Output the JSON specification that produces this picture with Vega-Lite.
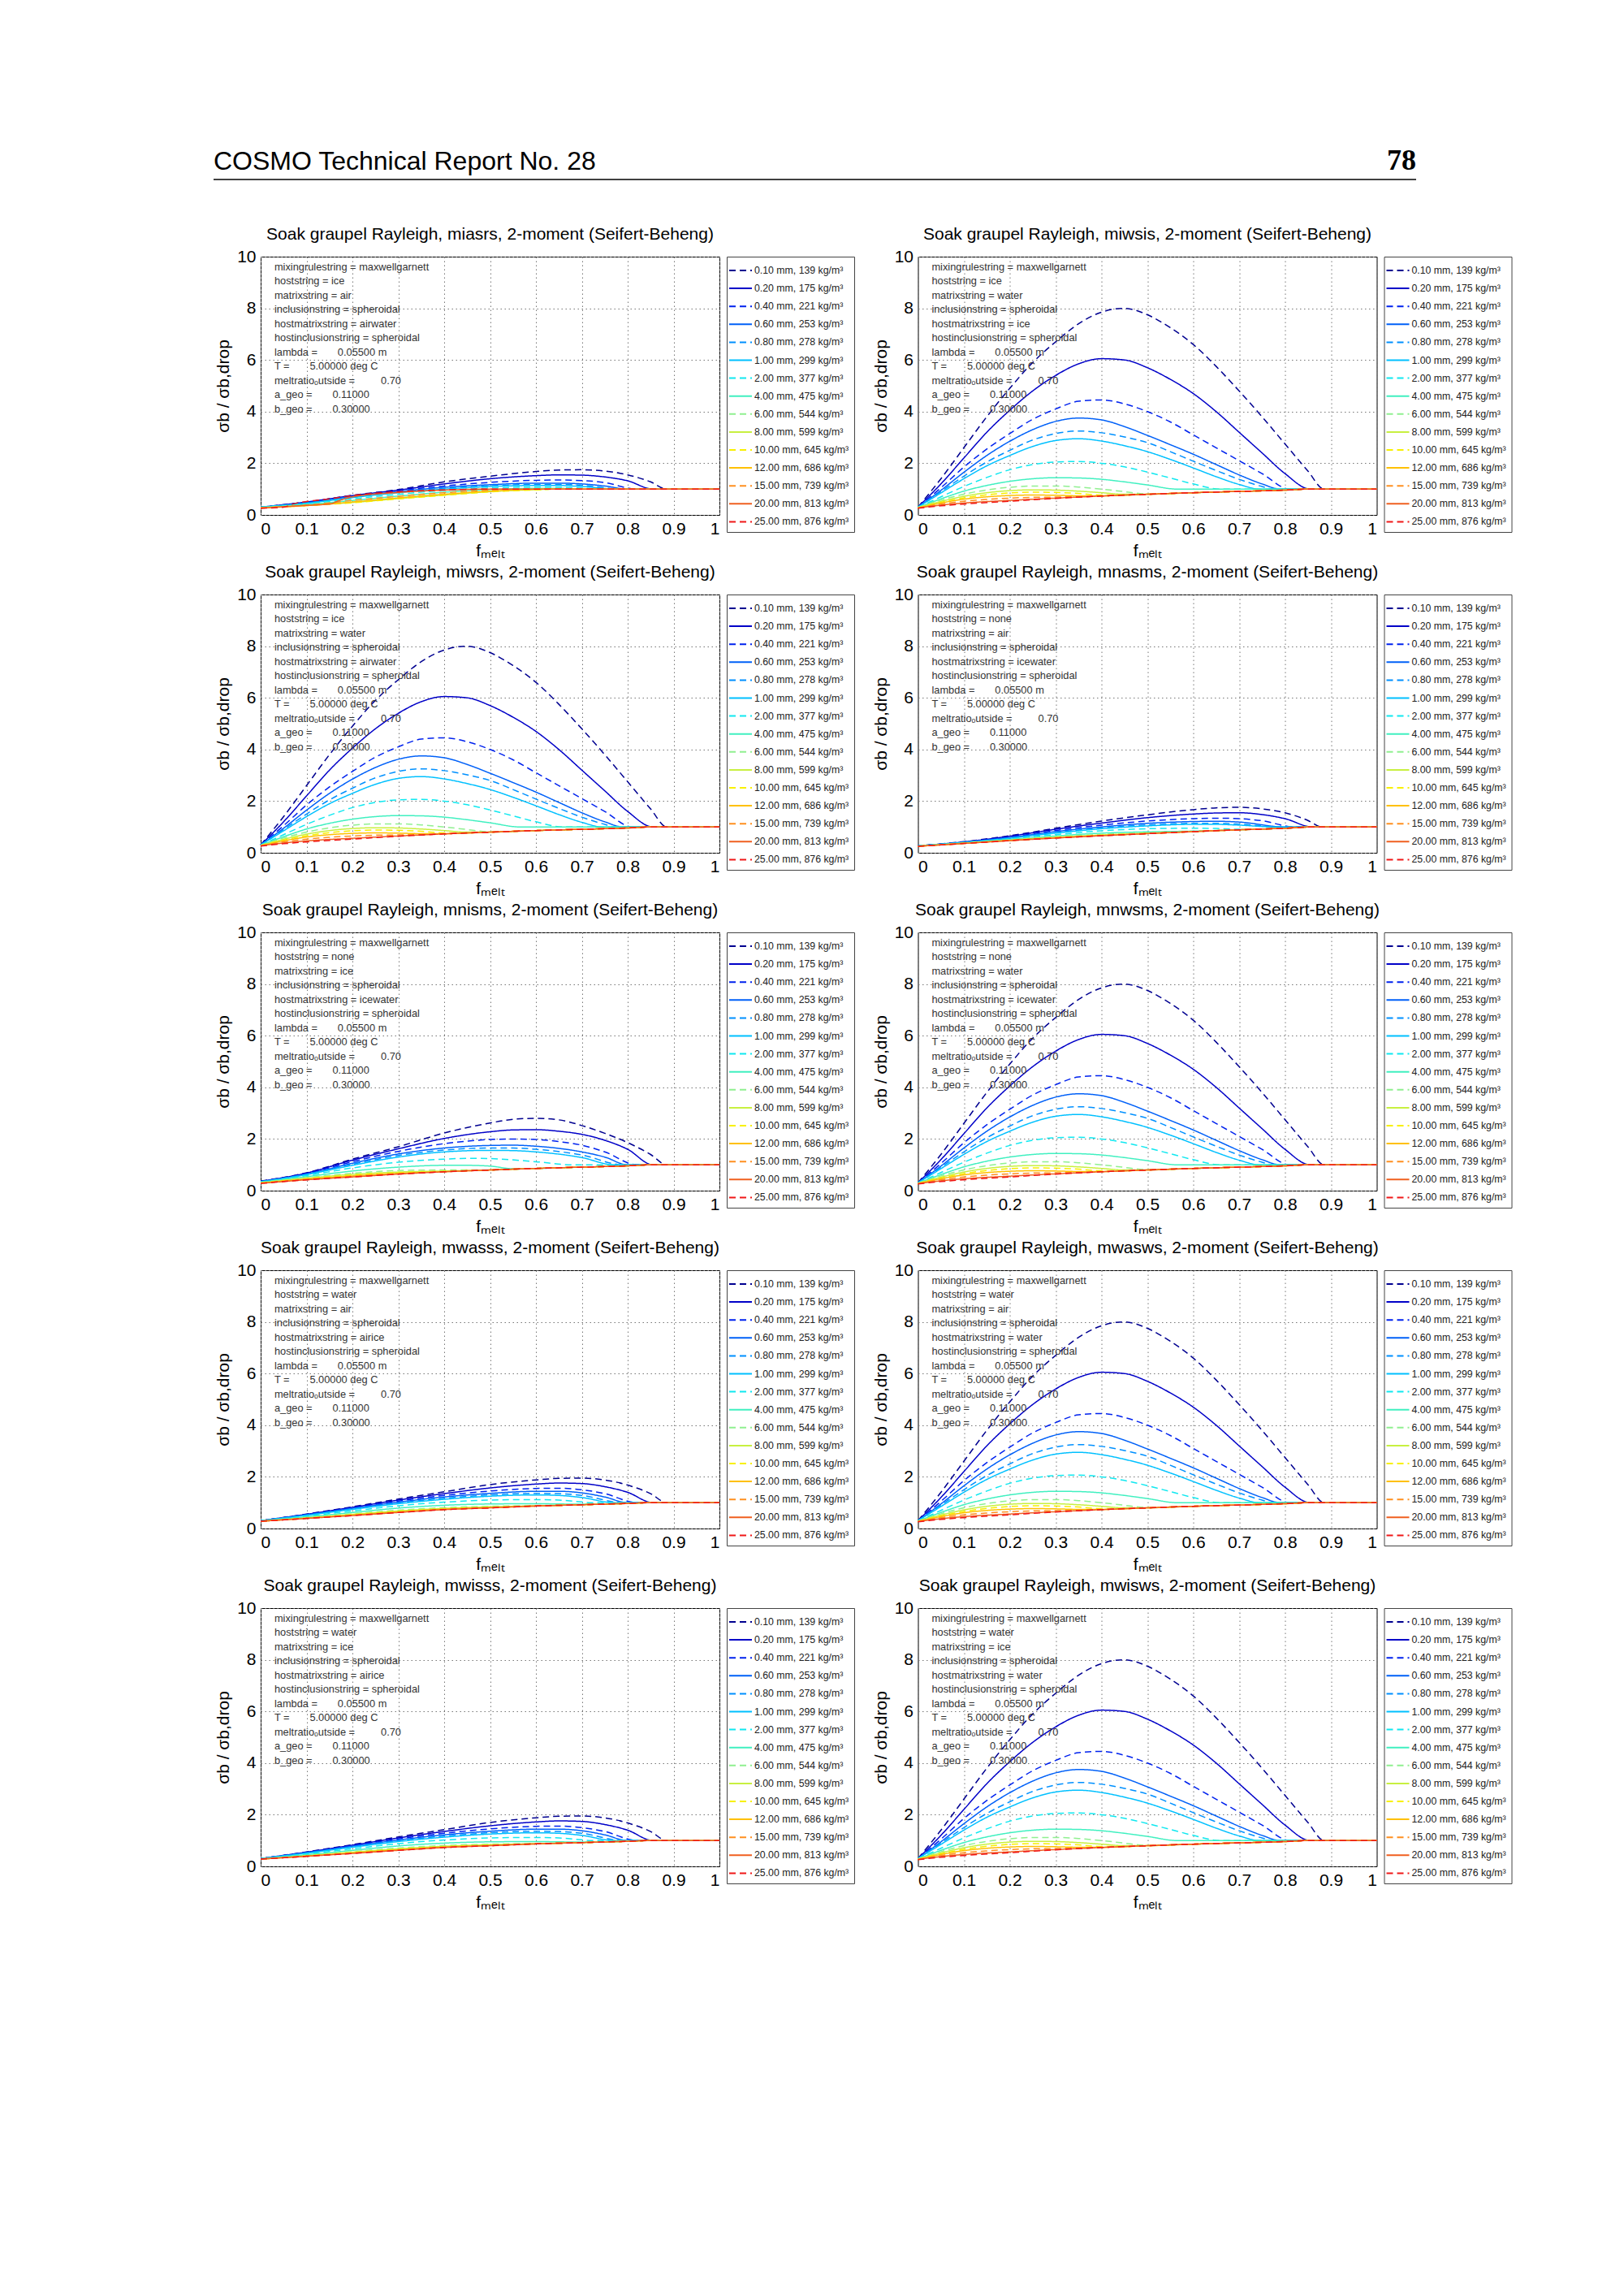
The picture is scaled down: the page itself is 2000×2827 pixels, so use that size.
{
  "$schema": "https://vega.github.io/schema/vega-lite/v6.json",
  "background": "white",
  "padding": {"left": 262, "top": 180, "right": 20, "bottom": 20},
  "spacing": 55,
  "config": {
    "font": "Liberation Sans",
    "view": {"stroke": "#000", "strokeWidth": 1},
    "axis": {
      "labelFontSize": 21, "titleFontSize": 21, "titleFontWeight": "normal",
      "labelColor": "#000", "titleColor": "#000", "domain": false, "ticks": false,
      "grid": true, "gridColor": "#777", "gridDash": [1.5, 3.5], "gridOpacity": 1, "labelPadding": 6, "titlePadding": 6
    },
    "title": {"fontSize": 21, "fontWeight": "normal", "frame": "group", "offset": 6, "color": "#000"},
    "legend": {
      "orient": "right", "offset": 6, "strokeColor": "#444", "fillColor": "#fff", "padding": 6,
      "labelFontSize": 12.3, "labelColor": "#222", "symbolType": "M-1.4,0H1.4", "symbolSize": 400,
      "symbolStrokeWidth": 2, "rowPadding": 4.1, "labelOffset": 6
    }
  },
  "datasets": {
    "sizes": [
      {"k": 1, "lab": "0.10 mm, 139 kg/m³"}, {"k": 2, "lab": "0.20 mm, 175 kg/m³"}, {"k": 3, "lab": "0.40 mm, 221 kg/m³"},
      {"k": 4, "lab": "0.60 mm, 253 kg/m³"}, {"k": 5, "lab": "0.80 mm, 278 kg/m³"}, {"k": 6, "lab": "1.00 mm, 299 kg/m³"},
      {"k": 7, "lab": "2.00 mm, 377 kg/m³"}, {"k": 8, "lab": "4.00 mm, 475 kg/m³"}, {"k": 9, "lab": "6.00 mm, 544 kg/m³"},
      {"k": 10, "lab": "8.00 mm, 599 kg/m³"}, {"k": 11, "lab": "10.00 mm, 645 kg/m³"}, {"k": 12, "lab": "12.00 mm, 686 kg/m³"},
      {"k": 13, "lab": "15.00 mm, 739 kg/m³"}, {"k": 14, "lab": "20.00 mm, 813 kg/m³"}, {"k": 15, "lab": "25.00 mm, 876 kg/m³"}
    ],
    "annc": [
      {"i": 1, "t": "mixingrulestring = maxwellgarnett"},
      {"i": 7, "t": "lambda =\u00a0\u00a0\u00a0\u00a0\u00a0\u00a0 0.05500 m"},
      {"i": 8, "t": "T =\u00a0\u00a0\u00a0\u00a0\u00a0\u00a0 5.00000 deg C"},
      {"i": 9, "t": "meltratio\u2092utside =\u00a0\u00a0\u00a0\u00a0\u00a0\u00a0\u00a0\u00a0 0.70"},
      {"i": 10, "t": "a_geo =\u00a0\u00a0\u00a0\u00a0\u00a0\u00a0 0.11000"},
      {"i": 11, "t": "b_geo =\u00a0\u00a0\u00a0\u00a0\u00a0\u00a0 0.30000"}
    ],
    "annp": [
      {"p": "miasrs", "i": 2, "t": "hoststring = ice"}, {"p": "miasrs", "i": 3, "t": "matrixstring = air"}, {"p": "miasrs", "i": 4, "t": "inclusionstring = spheroidal"}, {"p": "miasrs", "i": 5, "t": "hostmatrixstring = airwater"}, {"p": "miasrs", "i": 6, "t": "hostinclusionstring = spheroidal"},
      {"p": "miwsis", "i": 2, "t": "hoststring = ice"}, {"p": "miwsis", "i": 3, "t": "matrixstring = water"}, {"p": "miwsis", "i": 4, "t": "inclusionstring = spheroidal"}, {"p": "miwsis", "i": 5, "t": "hostmatrixstring = ice"}, {"p": "miwsis", "i": 6, "t": "hostinclusionstring = spheroidal"},
      {"p": "miwsrs", "i": 2, "t": "hoststring = ice"}, {"p": "miwsrs", "i": 3, "t": "matrixstring = water"}, {"p": "miwsrs", "i": 4, "t": "inclusionstring = spheroidal"}, {"p": "miwsrs", "i": 5, "t": "hostmatrixstring = airwater"}, {"p": "miwsrs", "i": 6, "t": "hostinclusionstring = spheroidal"},
      {"p": "mnasms", "i": 2, "t": "hoststring = none"}, {"p": "mnasms", "i": 3, "t": "matrixstring = air"}, {"p": "mnasms", "i": 4, "t": "inclusionstring = spheroidal"}, {"p": "mnasms", "i": 5, "t": "hostmatrixstring = icewater"}, {"p": "mnasms", "i": 6, "t": "hostinclusionstring = spheroidal"},
      {"p": "mnisms", "i": 2, "t": "hoststring = none"}, {"p": "mnisms", "i": 3, "t": "matrixstring = ice"}, {"p": "mnisms", "i": 4, "t": "inclusionstring = spheroidal"}, {"p": "mnisms", "i": 5, "t": "hostmatrixstring = icewater"}, {"p": "mnisms", "i": 6, "t": "hostinclusionstring = spheroidal"},
      {"p": "mnwsms", "i": 2, "t": "hoststring = none"}, {"p": "mnwsms", "i": 3, "t": "matrixstring = water"}, {"p": "mnwsms", "i": 4, "t": "inclusionstring = spheroidal"}, {"p": "mnwsms", "i": 5, "t": "hostmatrixstring = icewater"}, {"p": "mnwsms", "i": 6, "t": "hostinclusionstring = spheroidal"},
      {"p": "mwasss", "i": 2, "t": "hoststring = water"}, {"p": "mwasss", "i": 3, "t": "matrixstring = air"}, {"p": "mwasss", "i": 4, "t": "inclusionstring = spheroidal"}, {"p": "mwasss", "i": 5, "t": "hostmatrixstring = airice"}, {"p": "mwasss", "i": 6, "t": "hostinclusionstring = spheroidal"},
      {"p": "mwasws", "i": 2, "t": "hoststring = water"}, {"p": "mwasws", "i": 3, "t": "matrixstring = air"}, {"p": "mwasws", "i": 4, "t": "inclusionstring = spheroidal"}, {"p": "mwasws", "i": 5, "t": "hostmatrixstring = water"}, {"p": "mwasws", "i": 6, "t": "hostinclusionstring = spheroidal"},
      {"p": "mwisss", "i": 2, "t": "hoststring = water"}, {"p": "mwisss", "i": 3, "t": "matrixstring = ice"}, {"p": "mwisss", "i": 4, "t": "inclusionstring = spheroidal"}, {"p": "mwisss", "i": 5, "t": "hostmatrixstring = airice"}, {"p": "mwisss", "i": 6, "t": "hostinclusionstring = spheroidal"},
      {"p": "mwisws", "i": 2, "t": "hoststring = water"}, {"p": "mwisws", "i": 3, "t": "matrixstring = ice"}, {"p": "mwisws", "i": 4, "t": "inclusionstring = spheroidal"}, {"p": "mwisws", "i": 5, "t": "hostmatrixstring = water"}, {"p": "mwisws", "i": 6, "t": "hostinclusionstring = spheroidal"}
    ],
    "hi": [
      {"k":1,"x":0,"y":0.3},{"k":1,"x":0.05,"y":1.4},{"k":1,"x":0.1,"y":2.6},{"k":1,"x":0.15,"y":3.8},{"k":1,"x":0.2,"y":4.9},{"k":1,"x":0.25,"y":5.9},{"k":1,"x":0.3,"y":6.7},{"k":1,"x":0.35,"y":7.4},{"k":1,"x":0.4,"y":7.85},{"k":1,"x":0.45,"y":8.0},{"k":1,"x":0.5,"y":7.75},{"k":1,"x":0.55,"y":7.25},{"k":1,"x":0.6,"y":6.6},{"k":1,"x":0.65,"y":5.75},{"k":1,"x":0.7,"y":4.8},{"k":1,"x":0.75,"y":3.8},{"k":1,"x":0.8,"y":2.75},{"k":1,"x":0.85,"y":1.7},{"k":1,"x":0.885,"y":1.0},{"k":1,"x":1,"y":1.0},
      {"k":2,"x":0,"y":0.3},{"k":2,"x":0.05,"y":1.2},{"k":2,"x":0.1,"y":2.2},{"k":2,"x":0.15,"y":3.2},{"k":2,"x":0.2,"y":4.05},{"k":2,"x":0.25,"y":4.8},{"k":2,"x":0.3,"y":5.4},{"k":2,"x":0.35,"y":5.85},{"k":2,"x":0.4,"y":6.05},{"k":2,"x":0.45,"y":6.0},{"k":2,"x":0.5,"y":5.7},{"k":2,"x":0.55,"y":5.25},{"k":2,"x":0.6,"y":4.7},{"k":2,"x":0.65,"y":4.0},{"k":2,"x":0.7,"y":3.2},{"k":2,"x":0.75,"y":2.4},{"k":2,"x":0.8,"y":1.6},{"k":2,"x":0.855,"y":1.0},{"k":2,"x":1,"y":1.0},
      {"k":3,"x":0,"y":0.3},{"k":3,"x":0.05,"y":1.05},{"k":3,"x":0.1,"y":1.85},{"k":3,"x":0.15,"y":2.55},{"k":3,"x":0.2,"y":3.15},{"k":3,"x":0.25,"y":3.7},{"k":3,"x":0.3,"y":4.1},{"k":3,"x":0.35,"y":4.4},{"k":3,"x":0.4,"y":4.45},{"k":3,"x":0.45,"y":4.3},{"k":3,"x":0.5,"y":4.0},{"k":3,"x":0.55,"y":3.6},{"k":3,"x":0.6,"y":3.1},{"k":3,"x":0.65,"y":2.6},{"k":3,"x":0.7,"y":2.1},{"k":3,"x":0.75,"y":1.6},{"k":3,"x":0.81,"y":1.0},{"k":3,"x":1,"y":1.0},
      {"k":4,"x":0,"y":0.3},{"k":4,"x":0.05,"y":0.95},{"k":4,"x":0.1,"y":1.65},{"k":4,"x":0.15,"y":2.3},{"k":4,"x":0.2,"y":2.85},{"k":4,"x":0.25,"y":3.3},{"k":4,"x":0.3,"y":3.62},{"k":4,"x":0.35,"y":3.75},{"k":4,"x":0.4,"y":3.68},{"k":4,"x":0.45,"y":3.42},{"k":4,"x":0.5,"y":3.08},{"k":4,"x":0.55,"y":2.72},{"k":4,"x":0.6,"y":2.35},{"k":4,"x":0.65,"y":1.95},{"k":4,"x":0.7,"y":1.55},{"k":4,"x":0.75,"y":1.2},{"k":4,"x":0.79,"y":1.0},{"k":4,"x":1,"y":1.0},
      {"k":5,"x":0,"y":0.3},{"k":5,"x":0.05,"y":0.9},{"k":5,"x":0.1,"y":1.5},{"k":5,"x":0.15,"y":2.05},{"k":5,"x":0.2,"y":2.5},{"k":5,"x":0.25,"y":2.9},{"k":5,"x":0.3,"y":3.15},{"k":5,"x":0.35,"y":3.25},{"k":5,"x":0.4,"y":3.18},{"k":5,"x":0.45,"y":3.02},{"k":5,"x":0.5,"y":2.8},{"k":5,"x":0.55,"y":2.45},{"k":5,"x":0.6,"y":2.08},{"k":5,"x":0.65,"y":1.72},{"k":5,"x":0.7,"y":1.38},{"k":5,"x":0.75,"y":1.1},{"k":5,"x":0.775,"y":1.0},{"k":5,"x":1,"y":1.0},
      {"k":6,"x":0,"y":0.3},{"k":6,"x":0.05,"y":0.85},{"k":6,"x":0.1,"y":1.4},{"k":6,"x":0.15,"y":1.9},{"k":6,"x":0.2,"y":2.3},{"k":6,"x":0.25,"y":2.65},{"k":6,"x":0.3,"y":2.88},{"k":6,"x":0.35,"y":2.95},{"k":6,"x":0.4,"y":2.86},{"k":6,"x":0.45,"y":2.68},{"k":6,"x":0.5,"y":2.45},{"k":6,"x":0.55,"y":2.15},{"k":6,"x":0.6,"y":1.82},{"k":6,"x":0.65,"y":1.48},{"k":6,"x":0.7,"y":1.18},{"k":6,"x":0.745,"y":1.0},{"k":6,"x":1,"y":1.0},
      {"k":7,"x":0,"y":0.29},{"k":7,"x":0.05,"y":0.7},{"k":7,"x":0.1,"y":1.1},{"k":7,"x":0.15,"y":1.45},{"k":7,"x":0.2,"y":1.75},{"k":7,"x":0.25,"y":1.95},{"k":7,"x":0.3,"y":2.05},{"k":7,"x":0.35,"y":2.07},{"k":7,"x":0.4,"y":2.0},{"k":7,"x":0.45,"y":1.86},{"k":7,"x":0.5,"y":1.66},{"k":7,"x":0.55,"y":1.43},{"k":7,"x":0.6,"y":1.2},{"k":7,"x":0.66,"y":1.0},{"k":7,"x":1,"y":1.0},
      {"k":8,"x":0,"y":0.29},{"k":8,"x":0.05,"y":0.62},{"k":8,"x":0.1,"y":0.92},{"k":8,"x":0.15,"y":1.14},{"k":8,"x":0.2,"y":1.3},{"k":8,"x":0.25,"y":1.4},{"k":8,"x":0.3,"y":1.44},{"k":8,"x":0.35,"y":1.43},{"k":8,"x":0.4,"y":1.38},{"k":8,"x":0.45,"y":1.28},{"k":8,"x":0.5,"y":1.16},{"k":8,"x":0.565,"y":1.0},{"k":8,"x":1,"y":1.0},
      {"k":9,"x":0,"y":0.29},{"k":9,"x":0.05,"y":0.57},{"k":9,"x":0.1,"y":0.8},{"k":9,"x":0.15,"y":0.97},{"k":9,"x":0.2,"y":1.07},{"k":9,"x":0.25,"y":1.12},{"k":9,"x":0.3,"y":1.12},{"k":9,"x":0.35,"y":1.08},{"k":9,"x":0.4,"y":1.0},{"k":9,"x":0.45,"y":0.9},{"k":9,"x":0.5,"y":0.81},{"k":9,"x":0.6,"y":0.86},{"k":9,"x":0.7,"y":0.91},{"k":9,"x":0.8,"y":0.96},{"k":9,"x":0.85,"y":1.0},{"k":9,"x":1,"y":1.0},
      {"k":10,"x":0,"y":0.28},{"k":10,"x":0.05,"y":0.52},{"k":10,"x":0.1,"y":0.72},{"k":10,"x":0.15,"y":0.86},{"k":10,"x":0.2,"y":0.94},{"k":10,"x":0.25,"y":0.97},{"k":10,"x":0.3,"y":0.96},{"k":10,"x":0.35,"y":0.92},{"k":10,"x":0.4,"y":0.86},{"k":10,"x":0.45,"y":0.8},{"k":10,"x":0.5,"y":0.8},{"k":10,"x":0.6,"y":0.86},{"k":10,"x":0.7,"y":0.91},{"k":10,"x":0.8,"y":0.96},{"k":10,"x":0.85,"y":1.0},{"k":10,"x":1,"y":1.0},
      {"k":11,"x":0,"y":0.28},{"k":11,"x":0.05,"y":0.49},{"k":11,"x":0.1,"y":0.66},{"k":11,"x":0.15,"y":0.78},{"k":11,"x":0.2,"y":0.85},{"k":11,"x":0.25,"y":0.88},{"k":11,"x":0.3,"y":0.87},{"k":11,"x":0.35,"y":0.83},{"k":11,"x":0.4,"y":0.77},{"k":11,"x":0.45,"y":0.77},{"k":11,"x":0.5,"y":0.8},{"k":11,"x":0.6,"y":0.86},{"k":11,"x":0.7,"y":0.91},{"k":11,"x":0.8,"y":0.96},{"k":11,"x":0.85,"y":1.0},{"k":11,"x":1,"y":1.0},
      {"k":12,"x":0,"y":0.27},{"k":12,"x":0.05,"y":0.46},{"k":12,"x":0.1,"y":0.61},{"k":12,"x":0.15,"y":0.7},{"k":12,"x":0.2,"y":0.75},{"k":12,"x":0.25,"y":0.77},{"k":12,"x":0.3,"y":0.76},{"k":12,"x":0.35,"y":0.74},{"k":12,"x":0.4,"y":0.74},{"k":12,"x":0.5,"y":0.8},{"k":12,"x":0.6,"y":0.86},{"k":12,"x":0.7,"y":0.91},{"k":12,"x":0.8,"y":0.96},{"k":12,"x":0.85,"y":1.0},{"k":12,"x":1,"y":1.0},
      {"k":13,"x":0,"y":0.27},{"k":13,"x":0.05,"y":0.42},{"k":13,"x":0.1,"y":0.53},{"k":13,"x":0.15,"y":0.6},{"k":13,"x":0.2,"y":0.65},{"k":13,"x":0.25,"y":0.68},{"k":13,"x":0.3,"y":0.69},{"k":13,"x":0.35,"y":0.71},{"k":13,"x":0.4,"y":0.74},{"k":13,"x":0.5,"y":0.8},{"k":13,"x":0.6,"y":0.86},{"k":13,"x":0.7,"y":0.91},{"k":13,"x":0.8,"y":0.96},{"k":13,"x":0.85,"y":1.0},{"k":13,"x":1,"y":1.0},
      {"k":14,"x":0,"y":0.27},{"k":14,"x":0.05,"y":0.38},{"k":14,"x":0.1,"y":0.46},{"k":14,"x":0.2,"y":0.56},{"k":14,"x":0.3,"y":0.65},{"k":14,"x":0.4,"y":0.73},{"k":14,"x":0.5,"y":0.8},{"k":14,"x":0.6,"y":0.86},{"k":14,"x":0.7,"y":0.91},{"k":14,"x":0.8,"y":0.96},{"k":14,"x":0.85,"y":1.0},{"k":14,"x":1,"y":1.0},
      {"k":15,"x":0,"y":0.26},{"k":15,"x":0.05,"y":0.35},{"k":15,"x":0.1,"y":0.42},{"k":15,"x":0.2,"y":0.53},{"k":15,"x":0.3,"y":0.64},{"k":15,"x":0.4,"y":0.73},{"k":15,"x":0.5,"y":0.8},{"k":15,"x":0.6,"y":0.86},{"k":15,"x":0.7,"y":0.91},{"k":15,"x":0.8,"y":0.96},{"k":15,"x":0.85,"y":1.0},{"k":15,"x":1,"y":1.0}
    ],
    "lo_a": [
      {"k":1,"x":0,"y":0.3},{"k":1,"x":0.1,"y":0.5},{"k":1,"x":0.2,"y":0.76},{"k":1,"x":0.3,"y":0.98},{"k":1,"x":0.4,"y":1.28},{"k":1,"x":0.5,"y":1.5},{"k":1,"x":0.6,"y":1.68},{"k":1,"x":0.65,"y":1.74},{"k":1,"x":0.7,"y":1.75},{"k":1,"x":0.75,"y":1.7},{"k":1,"x":0.8,"y":1.55},{"k":1,"x":0.85,"y":1.28},{"k":1,"x":0.885,"y":1.0},{"k":1,"x":1,"y":1.0},
      {"k":2,"x":0,"y":0.3},{"k":2,"x":0.1,"y":0.5},{"k":2,"x":0.2,"y":0.75},{"k":2,"x":0.3,"y":0.96},{"k":2,"x":0.4,"y":1.2},{"k":2,"x":0.5,"y":1.4},{"k":2,"x":0.6,"y":1.52},{"k":2,"x":0.65,"y":1.55},{"k":2,"x":0.7,"y":1.54},{"k":2,"x":0.75,"y":1.47},{"k":2,"x":0.8,"y":1.32},{"k":2,"x":0.855,"y":1.0},{"k":2,"x":1,"y":1.0},
      {"k":3,"x":0,"y":0.3},{"k":3,"x":0.1,"y":0.48},{"k":3,"x":0.2,"y":0.73},{"k":3,"x":0.3,"y":0.93},{"k":3,"x":0.4,"y":1.12},{"k":3,"x":0.5,"y":1.26},{"k":3,"x":0.6,"y":1.34},{"k":3,"x":0.65,"y":1.35},{"k":3,"x":0.7,"y":1.33},{"k":3,"x":0.75,"y":1.25},{"k":3,"x":0.82,"y":1.0},{"k":3,"x":1,"y":1.0},
      {"k":4,"x":0,"y":0.3},{"k":4,"x":0.1,"y":0.47},{"k":4,"x":0.2,"y":0.71},{"k":4,"x":0.3,"y":0.9},{"k":4,"x":0.4,"y":1.07},{"k":4,"x":0.5,"y":1.17},{"k":4,"x":0.6,"y":1.23},{"k":4,"x":0.65,"y":1.23},{"k":4,"x":0.7,"y":1.2},{"k":4,"x":0.75,"y":1.12},{"k":4,"x":0.8,"y":1.0},{"k":4,"x":1,"y":1.0},
      {"k":5,"x":0,"y":0.3},{"k":5,"x":0.1,"y":0.46},{"k":5,"x":0.2,"y":0.69},{"k":5,"x":0.3,"y":0.88},{"k":5,"x":0.4,"y":1.03},{"k":5,"x":0.5,"y":1.13},{"k":5,"x":0.6,"y":1.18},{"k":5,"x":0.65,"y":1.18},{"k":5,"x":0.7,"y":1.15},{"k":5,"x":0.79,"y":1.0},{"k":5,"x":1,"y":1.0},
      {"k":6,"x":0,"y":0.3},{"k":6,"x":0.1,"y":0.45},{"k":6,"x":0.2,"y":0.67},{"k":6,"x":0.3,"y":0.86},{"k":6,"x":0.4,"y":1.0},{"k":6,"x":0.5,"y":1.1},{"k":6,"x":0.6,"y":1.14},{"k":6,"x":0.65,"y":1.14},{"k":6,"x":0.7,"y":1.1},{"k":6,"x":0.78,"y":1.0},{"k":6,"x":1,"y":1.0},
      {"k":7,"x":0,"y":0.3},{"k":7,"x":0.1,"y":0.43},{"k":7,"x":0.2,"y":0.62},{"k":7,"x":0.3,"y":0.8},{"k":7,"x":0.4,"y":0.95},{"k":7,"x":0.5,"y":1.04},{"k":7,"x":0.6,"y":1.08},{"k":7,"x":0.65,"y":1.07},{"k":7,"x":0.7,"y":1.04},{"k":7,"x":0.75,"y":1.0},{"k":7,"x":1,"y":1.0},
      {"k":8,"x":0,"y":0.29},{"k":8,"x":0.1,"y":0.4},{"k":8,"x":0.2,"y":0.56},{"k":8,"x":0.3,"y":0.73},{"k":8,"x":0.4,"y":0.88},{"k":8,"x":0.5,"y":0.98},{"k":8,"x":0.6,"y":1.03},{"k":8,"x":0.65,"y":1.03},{"k":8,"x":0.7,"y":1.0},{"k":8,"x":1,"y":1.0},
      {"k":9,"x":0,"y":0.28},{"k":9,"x":0.1,"y":0.38},{"k":9,"x":0.2,"y":0.5},{"k":9,"x":0.3,"y":0.66},{"k":9,"x":0.4,"y":0.8},{"k":9,"x":0.5,"y":0.92},{"k":9,"x":0.6,"y":0.99},{"k":9,"x":0.65,"y":1.0},{"k":9,"x":1,"y":1.0},
      {"k":10,"x":0,"y":0.28},{"k":10,"x":0.1,"y":0.37},{"k":10,"x":0.2,"y":0.48},{"k":10,"x":0.3,"y":0.63},{"k":10,"x":0.4,"y":0.77},{"k":10,"x":0.5,"y":0.9},{"k":10,"x":0.6,"y":0.98},{"k":10,"x":0.65,"y":1.0},{"k":10,"x":1,"y":1.0},
      {"k":11,"x":0,"y":0.27},{"k":11,"x":0.1,"y":0.36},{"k":11,"x":0.2,"y":0.47},{"k":11,"x":0.3,"y":0.62},{"k":11,"x":0.4,"y":0.76},{"k":11,"x":0.5,"y":0.89},{"k":11,"x":0.6,"y":0.97},{"k":11,"x":0.65,"y":1.0},{"k":11,"x":1,"y":1.0},
      {"k":12,"x":0,"y":0.27},{"k":12,"x":0.1,"y":0.36},{"k":12,"x":0.2,"y":0.5},{"k":12,"x":0.3,"y":0.66},{"k":12,"x":0.4,"y":0.8},{"k":12,"x":0.5,"y":0.92},{"k":12,"x":0.6,"y":0.99},{"k":12,"x":0.65,"y":1.0},{"k":12,"x":1,"y":1.0},
      {"k":13,"x":0,"y":0.27},{"k":13,"x":0.1,"y":0.38},{"k":13,"x":0.2,"y":0.56},{"k":13,"x":0.3,"y":0.72},{"k":13,"x":0.4,"y":0.86},{"k":13,"x":0.5,"y":0.96},{"k":13,"x":0.6,"y":1.0},{"k":13,"x":1,"y":1.0},
      {"k":14,"x":0,"y":0.26},{"k":14,"x":0.1,"y":0.37},{"k":14,"x":0.15,"y":0.42},{"k":14,"x":0.17,"y":0.55},{"k":14,"x":0.2,"y":0.7},{"k":14,"x":0.3,"y":0.87},{"k":14,"x":0.4,"y":0.96},{"k":14,"x":0.5,"y":1.0},{"k":14,"x":1,"y":1.0},
      {"k":15,"x":0,"y":0.26},{"k":15,"x":0.05,"y":0.3},{"k":15,"x":0.07,"y":0.42},{"k":15,"x":0.1,"y":0.52},{"k":15,"x":0.15,"y":0.62},{"k":15,"x":0.2,"y":0.75},{"k":15,"x":0.3,"y":0.9},{"k":15,"x":0.4,"y":0.97},{"k":15,"x":0.5,"y":1.0},{"k":15,"x":1,"y":1.0}
    ],
    "lo_n": [
      {"k":1,"x":0,"y":0.27},{"k":1,"x":0.1,"y":0.43},{"k":1,"x":0.2,"y":0.66},{"k":1,"x":0.3,"y":0.95},{"k":1,"x":0.4,"y":1.23},{"k":1,"x":0.5,"y":1.47},{"k":1,"x":0.6,"y":1.67},{"k":1,"x":0.65,"y":1.74},{"k":1,"x":0.7,"y":1.76},{"k":1,"x":0.75,"y":1.7},{"k":1,"x":0.8,"y":1.55},{"k":1,"x":0.85,"y":1.25},{"k":1,"x":0.88,"y":1.0},{"k":1,"x":1,"y":1.0},
      {"k":2,"x":0,"y":0.27},{"k":2,"x":0.1,"y":0.42},{"k":2,"x":0.2,"y":0.64},{"k":2,"x":0.3,"y":0.91},{"k":2,"x":0.4,"y":1.15},{"k":2,"x":0.5,"y":1.36},{"k":2,"x":0.6,"y":1.5},{"k":2,"x":0.65,"y":1.54},{"k":2,"x":0.7,"y":1.55},{"k":2,"x":0.75,"y":1.48},{"k":2,"x":0.8,"y":1.32},{"k":2,"x":0.86,"y":1.0},{"k":2,"x":1,"y":1.0},
      {"k":3,"x":0,"y":0.27},{"k":3,"x":0.1,"y":0.41},{"k":3,"x":0.2,"y":0.61},{"k":3,"x":0.3,"y":0.86},{"k":3,"x":0.4,"y":1.07},{"k":3,"x":0.5,"y":1.23},{"k":3,"x":0.6,"y":1.32},{"k":3,"x":0.65,"y":1.34},{"k":3,"x":0.7,"y":1.32},{"k":3,"x":0.75,"y":1.24},{"k":3,"x":0.82,"y":1.0},{"k":3,"x":1,"y":1.0},
      {"k":4,"x":0,"y":0.27},{"k":4,"x":0.1,"y":0.41},{"k":4,"x":0.2,"y":0.59},{"k":4,"x":0.3,"y":0.82},{"k":4,"x":0.4,"y":1.0},{"k":4,"x":0.5,"y":1.14},{"k":4,"x":0.6,"y":1.21},{"k":4,"x":0.65,"y":1.22},{"k":4,"x":0.7,"y":1.19},{"k":4,"x":0.8,"y":1.0},{"k":4,"x":1,"y":1.0},
      {"k":5,"x":0,"y":0.27},{"k":5,"x":0.1,"y":0.4},{"k":5,"x":0.2,"y":0.57},{"k":5,"x":0.3,"y":0.78},{"k":5,"x":0.4,"y":0.96},{"k":5,"x":0.5,"y":1.08},{"k":5,"x":0.6,"y":1.14},{"k":5,"x":0.65,"y":1.14},{"k":5,"x":0.7,"y":1.11},{"k":5,"x":0.79,"y":1.0},{"k":5,"x":1,"y":1.0},
      {"k":6,"x":0,"y":0.27},{"k":6,"x":0.1,"y":0.4},{"k":6,"x":0.2,"y":0.56},{"k":6,"x":0.3,"y":0.76},{"k":6,"x":0.4,"y":0.93},{"k":6,"x":0.5,"y":1.04},{"k":6,"x":0.6,"y":1.1},{"k":6,"x":0.65,"y":1.1},{"k":6,"x":0.7,"y":1.07},{"k":6,"x":0.78,"y":1.0},{"k":6,"x":1,"y":1.0},
      {"k":7,"x":0,"y":0.26},{"k":7,"x":0.1,"y":0.39},{"k":7,"x":0.2,"y":0.53},{"k":7,"x":0.3,"y":0.7},{"k":7,"x":0.4,"y":0.85},{"k":7,"x":0.5,"y":0.93},{"k":7,"x":0.6,"y":0.95},{"k":7,"x":0.65,"y":0.94},{"k":7,"x":0.7,"y":0.91},{"k":7,"x":0.8,"y":0.95},{"k":7,"x":0.86,"y":1.0},{"k":7,"x":1,"y":1.0},
      {"k":8,"x":0,"y":0.26},{"k":8,"x":0.1,"y":0.38},{"k":8,"x":0.2,"y":0.51},{"k":8,"x":0.3,"y":0.65},{"k":8,"x":0.4,"y":0.76},{"k":8,"x":0.5,"y":0.81},{"k":8,"x":0.6,"y":0.84},{"k":8,"x":0.7,"y":0.89},{"k":8,"x":0.8,"y":0.95},{"k":8,"x":0.86,"y":1.0},{"k":8,"x":1,"y":1.0},
      {"k":9,"x":0,"y":0.26},{"k":9,"x":0.1,"y":0.37},{"k":9,"x":0.2,"y":0.5},{"k":9,"x":0.3,"y":0.62},{"k":9,"x":0.4,"y":0.71},{"k":9,"x":0.5,"y":0.77},{"k":9,"x":0.6,"y":0.82},{"k":9,"x":0.7,"y":0.89},{"k":9,"x":0.8,"y":0.95},{"k":9,"x":0.86,"y":1.0},{"k":9,"x":1,"y":1.0},
      {"k":10,"x":0,"y":0.26},{"k":10,"x":0.1,"y":0.37},{"k":10,"x":0.2,"y":0.49},{"k":10,"x":0.3,"y":0.6},{"k":10,"x":0.4,"y":0.69},{"k":10,"x":0.5,"y":0.76},{"k":10,"x":0.6,"y":0.82},{"k":10,"x":0.7,"y":0.89},{"k":10,"x":0.8,"y":0.95},{"k":10,"x":0.86,"y":1.0},{"k":10,"x":1,"y":1.0},
      {"k":11,"x":0,"y":0.25},{"k":11,"x":0.1,"y":0.37},{"k":11,"x":0.2,"y":0.48},{"k":11,"x":0.3,"y":0.59},{"k":11,"x":0.4,"y":0.68},{"k":11,"x":0.5,"y":0.75},{"k":11,"x":0.6,"y":0.82},{"k":11,"x":0.7,"y":0.89},{"k":11,"x":0.8,"y":0.95},{"k":11,"x":0.86,"y":1.0},{"k":11,"x":1,"y":1.0},
      {"k":12,"x":0,"y":0.25},{"k":12,"x":0.1,"y":0.365},{"k":12,"x":0.2,"y":0.475},{"k":12,"x":0.3,"y":0.58},{"k":12,"x":0.4,"y":0.67},{"k":12,"x":0.5,"y":0.745},{"k":12,"x":0.6,"y":0.82},{"k":12,"x":0.7,"y":0.89},{"k":12,"x":0.8,"y":0.95},{"k":12,"x":0.86,"y":1.0},{"k":12,"x":1,"y":1.0},
      {"k":13,"x":0,"y":0.25},{"k":13,"x":0.1,"y":0.36},{"k":13,"x":0.2,"y":0.47},{"k":13,"x":0.3,"y":0.575},{"k":13,"x":0.4,"y":0.665},{"k":13,"x":0.5,"y":0.74},{"k":13,"x":0.6,"y":0.82},{"k":13,"x":0.7,"y":0.89},{"k":13,"x":0.8,"y":0.95},{"k":13,"x":0.86,"y":1.0},{"k":13,"x":1,"y":1.0},
      {"k":14,"x":0,"y":0.25},{"k":14,"x":0.1,"y":0.36},{"k":14,"x":0.2,"y":0.47},{"k":14,"x":0.3,"y":0.57},{"k":14,"x":0.4,"y":0.66},{"k":14,"x":0.5,"y":0.74},{"k":14,"x":0.6,"y":0.82},{"k":14,"x":0.7,"y":0.89},{"k":14,"x":0.8,"y":0.95},{"k":14,"x":0.86,"y":1.0},{"k":14,"x":1,"y":1.0},
      {"k":15,"x":0,"y":0.25},{"k":15,"x":0.1,"y":0.36},{"k":15,"x":0.2,"y":0.47},{"k":15,"x":0.3,"y":0.57},{"k":15,"x":0.4,"y":0.66},{"k":15,"x":0.5,"y":0.74},{"k":15,"x":0.6,"y":0.82},{"k":15,"x":0.7,"y":0.89},{"k":15,"x":0.8,"y":0.95},{"k":15,"x":0.86,"y":1.0},{"k":15,"x":1,"y":1.0}
    ],
    "lo_i": [
      {"k":1,"x":0,"y":0.37},{"k":1,"x":0.1,"y":0.69},{"k":1,"x":0.2,"y":1.22},{"k":1,"x":0.3,"y":1.7},{"k":1,"x":0.4,"y":2.23},{"k":1,"x":0.5,"y":2.62},{"k":1,"x":0.55,"y":2.76},{"k":1,"x":0.6,"y":2.8},{"k":1,"x":0.65,"y":2.74},{"k":1,"x":0.7,"y":2.52},{"k":1,"x":0.75,"y":2.22},{"k":1,"x":0.8,"y":1.86},{"k":1,"x":0.85,"y":1.4},{"k":1,"x":0.885,"y":1.0},{"k":1,"x":1,"y":1.0},
      {"k":2,"x":0,"y":0.36},{"k":2,"x":0.1,"y":0.68},{"k":2,"x":0.2,"y":1.18},{"k":2,"x":0.3,"y":1.62},{"k":2,"x":0.4,"y":2.02},{"k":2,"x":0.5,"y":2.28},{"k":2,"x":0.55,"y":2.35},{"k":2,"x":0.6,"y":2.36},{"k":2,"x":0.65,"y":2.3},{"k":2,"x":0.7,"y":2.18},{"k":2,"x":0.75,"y":1.95},{"k":2,"x":0.8,"y":1.6},{"k":2,"x":0.855,"y":1.0},{"k":2,"x":1,"y":1.0},
      {"k":3,"x":0,"y":0.36},{"k":3,"x":0.1,"y":0.66},{"k":3,"x":0.2,"y":1.12},{"k":3,"x":0.3,"y":1.52},{"k":3,"x":0.4,"y":1.82},{"k":3,"x":0.5,"y":1.98},{"k":3,"x":0.55,"y":2.0},{"k":3,"x":0.6,"y":1.98},{"k":3,"x":0.65,"y":1.9},{"k":3,"x":0.7,"y":1.76},{"k":3,"x":0.75,"y":1.5},{"k":3,"x":0.82,"y":1.0},{"k":3,"x":1,"y":1.0},
      {"k":4,"x":0,"y":0.35},{"k":4,"x":0.1,"y":0.64},{"k":4,"x":0.2,"y":1.06},{"k":4,"x":0.3,"y":1.42},{"k":4,"x":0.4,"y":1.65},{"k":4,"x":0.5,"y":1.75},{"k":4,"x":0.55,"y":1.76},{"k":4,"x":0.6,"y":1.72},{"k":4,"x":0.7,"y":1.5},{"k":4,"x":0.75,"y":1.3},{"k":4,"x":0.8,"y":1.0},{"k":4,"x":1,"y":1.0},
      {"k":5,"x":0,"y":0.35},{"k":5,"x":0.1,"y":0.63},{"k":5,"x":0.2,"y":1.02},{"k":5,"x":0.3,"y":1.36},{"k":5,"x":0.4,"y":1.57},{"k":5,"x":0.5,"y":1.65},{"k":5,"x":0.55,"y":1.65},{"k":5,"x":0.6,"y":1.6},{"k":5,"x":0.7,"y":1.38},{"k":5,"x":0.79,"y":1.0},{"k":5,"x":1,"y":1.0},
      {"k":6,"x":0,"y":0.34},{"k":6,"x":0.1,"y":0.62},{"k":6,"x":0.2,"y":0.98},{"k":6,"x":0.3,"y":1.3},{"k":6,"x":0.4,"y":1.5},{"k":6,"x":0.5,"y":1.56},{"k":6,"x":0.55,"y":1.55},{"k":6,"x":0.6,"y":1.5},{"k":6,"x":0.7,"y":1.28},{"k":6,"x":0.77,"y":1.0},{"k":6,"x":1,"y":1.0},
      {"k":7,"x":0,"y":0.33},{"k":7,"x":0.1,"y":0.58},{"k":7,"x":0.2,"y":0.88},{"k":7,"x":0.3,"y":1.1},{"k":7,"x":0.4,"y":1.22},{"k":7,"x":0.45,"y":1.25},{"k":7,"x":0.5,"y":1.24},{"k":7,"x":0.6,"y":1.12},{"k":7,"x":0.68,"y":1.0},{"k":7,"x":1,"y":1.0},
      {"k":8,"x":0,"y":0.32},{"k":8,"x":0.1,"y":0.54},{"k":8,"x":0.2,"y":0.76},{"k":8,"x":0.3,"y":0.91},{"k":8,"x":0.4,"y":0.98},{"k":8,"x":0.45,"y":0.98},{"k":8,"x":0.5,"y":0.95},{"k":8,"x":0.55,"y":0.85},{"k":8,"x":0.6,"y":0.86},{"k":8,"x":0.7,"y":0.91},{"k":8,"x":0.8,"y":0.96},{"k":8,"x":0.85,"y":1.0},{"k":8,"x":1,"y":1.0},
      {"k":9,"x":0,"y":0.31},{"k":9,"x":0.1,"y":0.5},{"k":9,"x":0.2,"y":0.67},{"k":9,"x":0.3,"y":0.78},{"k":9,"x":0.4,"y":0.8},{"k":9,"x":0.5,"y":0.8},{"k":9,"x":0.6,"y":0.86},{"k":9,"x":0.7,"y":0.91},{"k":9,"x":0.8,"y":0.96},{"k":9,"x":0.85,"y":1.0},{"k":9,"x":1,"y":1.0},
      {"k":10,"x":0,"y":0.3},{"k":10,"x":0.1,"y":0.48},{"k":10,"x":0.2,"y":0.63},{"k":10,"x":0.3,"y":0.72},{"k":10,"x":0.4,"y":0.76},{"k":10,"x":0.5,"y":0.8},{"k":10,"x":0.6,"y":0.86},{"k":10,"x":0.7,"y":0.91},{"k":10,"x":0.8,"y":0.96},{"k":10,"x":0.85,"y":1.0},{"k":10,"x":1,"y":1.0},
      {"k":11,"x":0,"y":0.3},{"k":11,"x":0.1,"y":0.46},{"k":11,"x":0.2,"y":0.6},{"k":11,"x":0.3,"y":0.69},{"k":11,"x":0.4,"y":0.745},{"k":11,"x":0.5,"y":0.8},{"k":11,"x":0.6,"y":0.86},{"k":11,"x":0.7,"y":0.91},{"k":11,"x":0.8,"y":0.96},{"k":11,"x":0.85,"y":1.0},{"k":11,"x":1,"y":1.0},
      {"k":12,"x":0,"y":0.29},{"k":12,"x":0.1,"y":0.45},{"k":12,"x":0.2,"y":0.57},{"k":12,"x":0.3,"y":0.67},{"k":12,"x":0.4,"y":0.735},{"k":12,"x":0.5,"y":0.8},{"k":12,"x":0.6,"y":0.86},{"k":12,"x":0.7,"y":0.91},{"k":12,"x":0.8,"y":0.96},{"k":12,"x":0.85,"y":1.0},{"k":12,"x":1,"y":1.0},
      {"k":13,"x":0,"y":0.29},{"k":13,"x":0.1,"y":0.43},{"k":13,"x":0.2,"y":0.55},{"k":13,"x":0.3,"y":0.65},{"k":13,"x":0.4,"y":0.73},{"k":13,"x":0.5,"y":0.8},{"k":13,"x":0.6,"y":0.86},{"k":13,"x":0.7,"y":0.91},{"k":13,"x":0.8,"y":0.96},{"k":13,"x":0.85,"y":1.0},{"k":13,"x":1,"y":1.0},
      {"k":14,"x":0,"y":0.28},{"k":14,"x":0.1,"y":0.42},{"k":14,"x":0.2,"y":0.53},{"k":14,"x":0.3,"y":0.64},{"k":14,"x":0.4,"y":0.73},{"k":14,"x":0.5,"y":0.8},{"k":14,"x":0.6,"y":0.86},{"k":14,"x":0.7,"y":0.91},{"k":14,"x":0.8,"y":0.96},{"k":14,"x":0.85,"y":1.0},{"k":14,"x":1,"y":1.0},
      {"k":15,"x":0,"y":0.28},{"k":15,"x":0.1,"y":0.42},{"k":15,"x":0.2,"y":0.53},{"k":15,"x":0.3,"y":0.64},{"k":15,"x":0.4,"y":0.73},{"k":15,"x":0.5,"y":0.8},{"k":15,"x":0.6,"y":0.86},{"k":15,"x":0.7,"y":0.91},{"k":15,"x":0.8,"y":0.96},{"k":15,"x":0.85,"y":1.0},{"k":15,"x":1,"y":1.0}
    ],
    "lo_w": [
      {"k":1,"x":0,"y":0.3},{"k":1,"x":0.1,"y":0.56},{"k":1,"x":0.2,"y":0.84},{"k":1,"x":0.3,"y":1.14},{"k":1,"x":0.4,"y":1.42},{"k":1,"x":0.5,"y":1.7},{"k":1,"x":0.6,"y":1.88},{"k":1,"x":0.65,"y":1.94},{"k":1,"x":0.7,"y":1.95},{"k":1,"x":0.75,"y":1.88},{"k":1,"x":0.8,"y":1.68},{"k":1,"x":0.85,"y":1.35},{"k":1,"x":0.885,"y":1.0},{"k":1,"x":1,"y":1.0},
      {"k":2,"x":0,"y":0.3},{"k":2,"x":0.1,"y":0.55},{"k":2,"x":0.2,"y":0.82},{"k":2,"x":0.3,"y":1.1},{"k":2,"x":0.4,"y":1.35},{"k":2,"x":0.5,"y":1.57},{"k":2,"x":0.6,"y":1.72},{"k":2,"x":0.65,"y":1.76},{"k":2,"x":0.7,"y":1.74},{"k":2,"x":0.75,"y":1.62},{"k":2,"x":0.8,"y":1.4},{"k":2,"x":0.855,"y":1.0},{"k":2,"x":1,"y":1.0},
      {"k":3,"x":0,"y":0.3},{"k":3,"x":0.1,"y":0.54},{"k":3,"x":0.2,"y":0.8},{"k":3,"x":0.3,"y":1.06},{"k":3,"x":0.4,"y":1.28},{"k":3,"x":0.5,"y":1.45},{"k":3,"x":0.6,"y":1.55},{"k":3,"x":0.65,"y":1.56},{"k":3,"x":0.7,"y":1.5},{"k":3,"x":0.75,"y":1.35},{"k":3,"x":0.82,"y":1.0},{"k":3,"x":1,"y":1.0},
      {"k":4,"x":0,"y":0.3},{"k":4,"x":0.1,"y":0.53},{"k":4,"x":0.2,"y":0.78},{"k":4,"x":0.3,"y":1.02},{"k":4,"x":0.4,"y":1.22},{"k":4,"x":0.5,"y":1.36},{"k":4,"x":0.6,"y":1.44},{"k":4,"x":0.65,"y":1.44},{"k":4,"x":0.7,"y":1.38},{"k":4,"x":0.75,"y":1.22},{"k":4,"x":0.8,"y":1.0},{"k":4,"x":1,"y":1.0},
      {"k":5,"x":0,"y":0.3},{"k":5,"x":0.1,"y":0.52},{"k":5,"x":0.2,"y":0.76},{"k":5,"x":0.3,"y":0.99},{"k":5,"x":0.4,"y":1.17},{"k":5,"x":0.5,"y":1.3},{"k":5,"x":0.6,"y":1.36},{"k":5,"x":0.65,"y":1.35},{"k":5,"x":0.7,"y":1.28},{"k":5,"x":0.79,"y":1.0},{"k":5,"x":1,"y":1.0},
      {"k":6,"x":0,"y":0.3},{"k":6,"x":0.1,"y":0.51},{"k":6,"x":0.2,"y":0.74},{"k":6,"x":0.3,"y":0.96},{"k":6,"x":0.4,"y":1.13},{"k":6,"x":0.5,"y":1.25},{"k":6,"x":0.6,"y":1.3},{"k":6,"x":0.65,"y":1.28},{"k":6,"x":0.7,"y":1.2},{"k":6,"x":0.77,"y":1.0},{"k":6,"x":1,"y":1.0},
      {"k":7,"x":0,"y":0.29},{"k":7,"x":0.1,"y":0.48},{"k":7,"x":0.2,"y":0.68},{"k":7,"x":0.3,"y":0.88},{"k":7,"x":0.4,"y":1.02},{"k":7,"x":0.5,"y":1.1},{"k":7,"x":0.6,"y":1.12},{"k":7,"x":0.65,"y":1.1},{"k":7,"x":0.7,"y":1.03},{"k":7,"x":0.72,"y":1.0},{"k":7,"x":1,"y":1.0},
      {"k":8,"x":0,"y":0.29},{"k":8,"x":0.1,"y":0.45},{"k":8,"x":0.2,"y":0.62},{"k":8,"x":0.3,"y":0.79},{"k":8,"x":0.4,"y":0.9},{"k":8,"x":0.5,"y":0.95},{"k":8,"x":0.6,"y":0.96},{"k":8,"x":0.65,"y":0.95},{"k":8,"x":0.7,"y":0.94},{"k":8,"x":0.8,"y":0.97},{"k":8,"x":0.85,"y":1.0},{"k":8,"x":1,"y":1.0},
      {"k":9,"x":0,"y":0.29},{"k":9,"x":0.1,"y":0.42},{"k":9,"x":0.2,"y":0.57},{"k":9,"x":0.3,"y":0.71},{"k":9,"x":0.4,"y":0.81},{"k":9,"x":0.5,"y":0.86},{"k":9,"x":0.6,"y":0.89},{"k":9,"x":0.7,"y":0.92},{"k":9,"x":0.8,"y":0.97},{"k":9,"x":0.85,"y":1.0},{"k":9,"x":1,"y":1.0},
      {"k":10,"x":0,"y":0.28},{"k":10,"x":0.1,"y":0.41},{"k":10,"x":0.2,"y":0.55},{"k":10,"x":0.3,"y":0.68},{"k":10,"x":0.4,"y":0.78},{"k":10,"x":0.5,"y":0.84},{"k":10,"x":0.6,"y":0.88},{"k":10,"x":0.7,"y":0.92},{"k":10,"x":0.8,"y":0.97},{"k":10,"x":0.85,"y":1.0},{"k":10,"x":1,"y":1.0},
      {"k":11,"x":0,"y":0.28},{"k":11,"x":0.1,"y":0.4},{"k":11,"x":0.2,"y":0.53},{"k":11,"x":0.3,"y":0.66},{"k":11,"x":0.4,"y":0.76},{"k":11,"x":0.5,"y":0.82},{"k":11,"x":0.6,"y":0.87},{"k":11,"x":0.7,"y":0.92},{"k":11,"x":0.8,"y":0.97},{"k":11,"x":0.85,"y":1.0},{"k":11,"x":1,"y":1.0},
      {"k":12,"x":0,"y":0.28},{"k":12,"x":0.1,"y":0.4},{"k":12,"x":0.2,"y":0.52},{"k":12,"x":0.3,"y":0.64},{"k":12,"x":0.4,"y":0.75},{"k":12,"x":0.5,"y":0.81},{"k":12,"x":0.6,"y":0.87},{"k":12,"x":0.7,"y":0.92},{"k":12,"x":0.8,"y":0.97},{"k":12,"x":0.85,"y":1.0},{"k":12,"x":1,"y":1.0},
      {"k":13,"x":0,"y":0.28},{"k":13,"x":0.1,"y":0.39},{"k":13,"x":0.2,"y":0.51},{"k":13,"x":0.3,"y":0.63},{"k":13,"x":0.4,"y":0.74},{"k":13,"x":0.5,"y":0.8},{"k":13,"x":0.6,"y":0.87},{"k":13,"x":0.7,"y":0.92},{"k":13,"x":0.8,"y":0.97},{"k":13,"x":0.85,"y":1.0},{"k":13,"x":1,"y":1.0},
      {"k":14,"x":0,"y":0.28},{"k":14,"x":0.1,"y":0.39},{"k":14,"x":0.2,"y":0.5},{"k":14,"x":0.3,"y":0.62},{"k":14,"x":0.4,"y":0.73},{"k":14,"x":0.5,"y":0.8},{"k":14,"x":0.6,"y":0.87},{"k":14,"x":0.7,"y":0.92},{"k":14,"x":0.8,"y":0.97},{"k":14,"x":0.85,"y":1.0},{"k":14,"x":1,"y":1.0},
      {"k":15,"x":0,"y":0.28},{"k":15,"x":0.1,"y":0.39},{"k":15,"x":0.2,"y":0.5},{"k":15,"x":0.3,"y":0.62},{"k":15,"x":0.4,"y":0.73},{"k":15,"x":0.5,"y":0.8},{"k":15,"x":0.6,"y":0.87},{"k":15,"x":0.7,"y":0.92},{"k":15,"x":0.8,"y":0.97},{"k":15,"x":0.85,"y":1.0},{"k":15,"x":1,"y":1.0}
    ]
  },
  "vconcat": [
    {
      "width": 1423, "height": 30,
      "view": {"stroke": null},
      "data": {"values": [{"t": "COSMO Technical Report No. 28", "n": "78"}]},
      "layer": [
        {"mark": {"type": "rule", "strokeWidth": 1.5, "color": "#000"},
         "encoding": {"x": {"datum": 0, "type": "quantitative", "scale": {"domain": [0, 1], "range": [-58, 1423]}, "axis": null}, "x2": {"datum": 1}, "y": {"datum": 0, "type": "quantitative", "scale": {"domain": [0, 1]}, "axis": null}}},
        {"mark": {"type": "text", "align": "left", "baseline": "alphabetic", "fontSize": 32, "font": "Liberation Sans", "color": "#000"},
         "encoding": {"x": {"datum": 0, "type": "quantitative"}, "y": {"datum": 0.4, "type": "quantitative"}, "text": {"field": "t"}}},
        {"mark": {"type": "text", "align": "right", "baseline": "alphabetic", "fontSize": 36, "font": "Liberation Serif", "fontWeight": "bold", "color": "#000"},
         "encoding": {"x": {"datum": 1, "type": "quantitative"}, "y": {"datum": 0.4, "type": "quantitative"}, "text": {"field": "n"}}}
      ]
    },
    {
      "columns": 2,
      "spacing": {"row": 4, "column": 20.5},
      "resolve": {"scale": {"color": "independent", "strokeDash": "independent"}},
      "concat": [
        {"title": "Soak graupel Rayleigh, miasrs, 2-moment (Seifert-Beheng)", "width": 565, "height": 318, "resolve": {"scale": {"y": "independent"}},
         "layer": [
          {"data": {"name": "lo_a"}, "transform": [{"lookup": "k", "from": {"data": {"name": "sizes"}, "key": "k", "fields": ["lab"]}}],
           "mark": {"type": "line", "interpolate": "monotone", "strokeWidth": 1.5},
           "encoding": {
             "x": {"field": "x", "type": "quantitative", "scale": {"domain": [0, 1], "nice": false}, "axis": {"values": [0, 0.1, 0.2, 0.3, 0.4, 0.5, 0.6, 0.7, 0.8, 0.9, 1], "format": "~g", "title": "fₘₑₗₜ"}},
             "y": {"field": "y", "type": "quantitative", "scale": {"domain": [0, 10], "nice": false}, "axis": {"values": [0, 2, 4, 6, 8, 10], "title": "σb / σb,drop"}},
             "color": {"field": "lab", "type": "nominal", "sort": {"field": "k", "op": "min"}, "title": null, "scale": {"range": ["#000090", "#0000C8", "#0022EE", "#0060F8", "#0090FF", "#00C0FF", "#10E8F0", "#40F0C0", "#90F090", "#C8F040", "#F8F000", "#FFC000", "#FF9020", "#F06020", "#F01818"]}},
             "strokeDash": {"field": "lab", "type": "nominal", "sort": {"field": "k", "op": "min"}, "title": null, "scale": {"range": [[8, 5], [1, 0], [8, 5], [1, 0], [8, 5], [1, 0], [8, 5], [1, 0], [8, 5], [1, 0], [8, 5], [1, 0], [8, 5], [1, 0], [8, 5]]}}
           }},
          {"data": {"name": "annc"}, "mark": {"type": "text", "align": "left", "fontSize": 12.8, "color": "#333"},
           "encoding": {"x": {"datum": 0.03, "type": "quantitative"}, "y": {"field": "i", "type": "quantitative", "scale": {"domain": [0.26, 18.46], "reverse": true}, "axis": null}, "text": {"field": "t"}}},
          {"data": {"name": "annp"}, "transform": [{"filter": "datum.p == 'miasrs'"}], "mark": {"type": "text", "align": "left", "fontSize": 12.8, "color": "#333"},
           "encoding": {"x": {"datum": 0.03, "type": "quantitative"}, "y": {"field": "i", "type": "quantitative", "scale": {"domain": [0.26, 18.46], "reverse": true}, "axis": null}, "text": {"field": "t"}}}
         ]},
        {"title": "Soak graupel Rayleigh, miwsis, 2-moment (Seifert-Beheng)", "width": 565, "height": 318, "resolve": {"scale": {"y": "independent"}},
         "layer": [
          {"data": {"name": "hi"}, "transform": [{"lookup": "k", "from": {"data": {"name": "sizes"}, "key": "k", "fields": ["lab"]}}],
           "mark": {"type": "line", "interpolate": "monotone", "strokeWidth": 1.5},
           "encoding": {
             "x": {"field": "x", "type": "quantitative", "scale": {"domain": [0, 1], "nice": false}, "axis": {"values": [0, 0.1, 0.2, 0.3, 0.4, 0.5, 0.6, 0.7, 0.8, 0.9, 1], "format": "~g", "title": "fₘₑₗₜ"}},
             "y": {"field": "y", "type": "quantitative", "scale": {"domain": [0, 10], "nice": false}, "axis": {"values": [0, 2, 4, 6, 8, 10], "title": "σb / σb,drop"}},
             "color": {"field": "lab", "type": "nominal", "sort": {"field": "k", "op": "min"}, "title": null, "scale": {"range": ["#000090", "#0000C8", "#0022EE", "#0060F8", "#0090FF", "#00C0FF", "#10E8F0", "#40F0C0", "#90F090", "#C8F040", "#F8F000", "#FFC000", "#FF9020", "#F06020", "#F01818"]}},
             "strokeDash": {"field": "lab", "type": "nominal", "sort": {"field": "k", "op": "min"}, "title": null, "scale": {"range": [[8, 5], [1, 0], [8, 5], [1, 0], [8, 5], [1, 0], [8, 5], [1, 0], [8, 5], [1, 0], [8, 5], [1, 0], [8, 5], [1, 0], [8, 5]]}}
           }},
          {"data": {"name": "annc"}, "mark": {"type": "text", "align": "left", "fontSize": 12.8, "color": "#333"},
           "encoding": {"x": {"datum": 0.03, "type": "quantitative"}, "y": {"field": "i", "type": "quantitative", "scale": {"domain": [0.26, 18.46], "reverse": true}, "axis": null}, "text": {"field": "t"}}},
          {"data": {"name": "annp"}, "transform": [{"filter": "datum.p == 'miwsis'"}], "mark": {"type": "text", "align": "left", "fontSize": 12.8, "color": "#333"},
           "encoding": {"x": {"datum": 0.03, "type": "quantitative"}, "y": {"field": "i", "type": "quantitative", "scale": {"domain": [0.26, 18.46], "reverse": true}, "axis": null}, "text": {"field": "t"}}}
         ]},
        {"title": "Soak graupel Rayleigh, miwsrs, 2-moment (Seifert-Beheng)", "width": 565, "height": 318, "resolve": {"scale": {"y": "independent"}},
         "layer": [
          {"data": {"name": "hi"}, "transform": [{"lookup": "k", "from": {"data": {"name": "sizes"}, "key": "k", "fields": ["lab"]}}],
           "mark": {"type": "line", "interpolate": "monotone", "strokeWidth": 1.5},
           "encoding": {
             "x": {"field": "x", "type": "quantitative", "scale": {"domain": [0, 1], "nice": false}, "axis": {"values": [0, 0.1, 0.2, 0.3, 0.4, 0.5, 0.6, 0.7, 0.8, 0.9, 1], "format": "~g", "title": "fₘₑₗₜ"}},
             "y": {"field": "y", "type": "quantitative", "scale": {"domain": [0, 10], "nice": false}, "axis": {"values": [0, 2, 4, 6, 8, 10], "title": "σb / σb,drop"}},
             "color": {"field": "lab", "type": "nominal", "sort": {"field": "k", "op": "min"}, "title": null, "scale": {"range": ["#000090", "#0000C8", "#0022EE", "#0060F8", "#0090FF", "#00C0FF", "#10E8F0", "#40F0C0", "#90F090", "#C8F040", "#F8F000", "#FFC000", "#FF9020", "#F06020", "#F01818"]}},
             "strokeDash": {"field": "lab", "type": "nominal", "sort": {"field": "k", "op": "min"}, "title": null, "scale": {"range": [[8, 5], [1, 0], [8, 5], [1, 0], [8, 5], [1, 0], [8, 5], [1, 0], [8, 5], [1, 0], [8, 5], [1, 0], [8, 5], [1, 0], [8, 5]]}}
           }},
          {"data": {"name": "annc"}, "mark": {"type": "text", "align": "left", "fontSize": 12.8, "color": "#333"},
           "encoding": {"x": {"datum": 0.03, "type": "quantitative"}, "y": {"field": "i", "type": "quantitative", "scale": {"domain": [0.26, 18.46], "reverse": true}, "axis": null}, "text": {"field": "t"}}},
          {"data": {"name": "annp"}, "transform": [{"filter": "datum.p == 'miwsrs'"}], "mark": {"type": "text", "align": "left", "fontSize": 12.8, "color": "#333"},
           "encoding": {"x": {"datum": 0.03, "type": "quantitative"}, "y": {"field": "i", "type": "quantitative", "scale": {"domain": [0.26, 18.46], "reverse": true}, "axis": null}, "text": {"field": "t"}}}
         ]},
        {"title": "Soak graupel Rayleigh, mnasms, 2-moment (Seifert-Beheng)", "width": 565, "height": 318, "resolve": {"scale": {"y": "independent"}},
         "layer": [
          {"data": {"name": "lo_n"}, "transform": [{"lookup": "k", "from": {"data": {"name": "sizes"}, "key": "k", "fields": ["lab"]}}],
           "mark": {"type": "line", "interpolate": "monotone", "strokeWidth": 1.5},
           "encoding": {
             "x": {"field": "x", "type": "quantitative", "scale": {"domain": [0, 1], "nice": false}, "axis": {"values": [0, 0.1, 0.2, 0.3, 0.4, 0.5, 0.6, 0.7, 0.8, 0.9, 1], "format": "~g", "title": "fₘₑₗₜ"}},
             "y": {"field": "y", "type": "quantitative", "scale": {"domain": [0, 10], "nice": false}, "axis": {"values": [0, 2, 4, 6, 8, 10], "title": "σb / σb,drop"}},
             "color": {"field": "lab", "type": "nominal", "sort": {"field": "k", "op": "min"}, "title": null, "scale": {"range": ["#000090", "#0000C8", "#0022EE", "#0060F8", "#0090FF", "#00C0FF", "#10E8F0", "#40F0C0", "#90F090", "#C8F040", "#F8F000", "#FFC000", "#FF9020", "#F06020", "#F01818"]}},
             "strokeDash": {"field": "lab", "type": "nominal", "sort": {"field": "k", "op": "min"}, "title": null, "scale": {"range": [[8, 5], [1, 0], [8, 5], [1, 0], [8, 5], [1, 0], [8, 5], [1, 0], [8, 5], [1, 0], [8, 5], [1, 0], [8, 5], [1, 0], [8, 5]]}}
           }},
          {"data": {"name": "annc"}, "mark": {"type": "text", "align": "left", "fontSize": 12.8, "color": "#333"},
           "encoding": {"x": {"datum": 0.03, "type": "quantitative"}, "y": {"field": "i", "type": "quantitative", "scale": {"domain": [0.26, 18.46], "reverse": true}, "axis": null}, "text": {"field": "t"}}},
          {"data": {"name": "annp"}, "transform": [{"filter": "datum.p == 'mnasms'"}], "mark": {"type": "text", "align": "left", "fontSize": 12.8, "color": "#333"},
           "encoding": {"x": {"datum": 0.03, "type": "quantitative"}, "y": {"field": "i", "type": "quantitative", "scale": {"domain": [0.26, 18.46], "reverse": true}, "axis": null}, "text": {"field": "t"}}}
         ]},
        {"title": "Soak graupel Rayleigh, mnisms, 2-moment (Seifert-Beheng)", "width": 565, "height": 318, "resolve": {"scale": {"y": "independent"}},
         "layer": [
          {"data": {"name": "lo_i"}, "transform": [{"lookup": "k", "from": {"data": {"name": "sizes"}, "key": "k", "fields": ["lab"]}}],
           "mark": {"type": "line", "interpolate": "monotone", "strokeWidth": 1.5},
           "encoding": {
             "x": {"field": "x", "type": "quantitative", "scale": {"domain": [0, 1], "nice": false}, "axis": {"values": [0, 0.1, 0.2, 0.3, 0.4, 0.5, 0.6, 0.7, 0.8, 0.9, 1], "format": "~g", "title": "fₘₑₗₜ"}},
             "y": {"field": "y", "type": "quantitative", "scale": {"domain": [0, 10], "nice": false}, "axis": {"values": [0, 2, 4, 6, 8, 10], "title": "σb / σb,drop"}},
             "color": {"field": "lab", "type": "nominal", "sort": {"field": "k", "op": "min"}, "title": null, "scale": {"range": ["#000090", "#0000C8", "#0022EE", "#0060F8", "#0090FF", "#00C0FF", "#10E8F0", "#40F0C0", "#90F090", "#C8F040", "#F8F000", "#FFC000", "#FF9020", "#F06020", "#F01818"]}},
             "strokeDash": {"field": "lab", "type": "nominal", "sort": {"field": "k", "op": "min"}, "title": null, "scale": {"range": [[8, 5], [1, 0], [8, 5], [1, 0], [8, 5], [1, 0], [8, 5], [1, 0], [8, 5], [1, 0], [8, 5], [1, 0], [8, 5], [1, 0], [8, 5]]}}
           }},
          {"data": {"name": "annc"}, "mark": {"type": "text", "align": "left", "fontSize": 12.8, "color": "#333"},
           "encoding": {"x": {"datum": 0.03, "type": "quantitative"}, "y": {"field": "i", "type": "quantitative", "scale": {"domain": [0.26, 18.46], "reverse": true}, "axis": null}, "text": {"field": "t"}}},
          {"data": {"name": "annp"}, "transform": [{"filter": "datum.p == 'mnisms'"}], "mark": {"type": "text", "align": "left", "fontSize": 12.8, "color": "#333"},
           "encoding": {"x": {"datum": 0.03, "type": "quantitative"}, "y": {"field": "i", "type": "quantitative", "scale": {"domain": [0.26, 18.46], "reverse": true}, "axis": null}, "text": {"field": "t"}}}
         ]},
        {"title": "Soak graupel Rayleigh, mnwsms, 2-moment (Seifert-Beheng)", "width": 565, "height": 318, "resolve": {"scale": {"y": "independent"}},
         "layer": [
          {"data": {"name": "hi"}, "transform": [{"lookup": "k", "from": {"data": {"name": "sizes"}, "key": "k", "fields": ["lab"]}}],
           "mark": {"type": "line", "interpolate": "monotone", "strokeWidth": 1.5},
           "encoding": {
             "x": {"field": "x", "type": "quantitative", "scale": {"domain": [0, 1], "nice": false}, "axis": {"values": [0, 0.1, 0.2, 0.3, 0.4, 0.5, 0.6, 0.7, 0.8, 0.9, 1], "format": "~g", "title": "fₘₑₗₜ"}},
             "y": {"field": "y", "type": "quantitative", "scale": {"domain": [0, 10], "nice": false}, "axis": {"values": [0, 2, 4, 6, 8, 10], "title": "σb / σb,drop"}},
             "color": {"field": "lab", "type": "nominal", "sort": {"field": "k", "op": "min"}, "title": null, "scale": {"range": ["#000090", "#0000C8", "#0022EE", "#0060F8", "#0090FF", "#00C0FF", "#10E8F0", "#40F0C0", "#90F090", "#C8F040", "#F8F000", "#FFC000", "#FF9020", "#F06020", "#F01818"]}},
             "strokeDash": {"field": "lab", "type": "nominal", "sort": {"field": "k", "op": "min"}, "title": null, "scale": {"range": [[8, 5], [1, 0], [8, 5], [1, 0], [8, 5], [1, 0], [8, 5], [1, 0], [8, 5], [1, 0], [8, 5], [1, 0], [8, 5], [1, 0], [8, 5]]}}
           }},
          {"data": {"name": "annc"}, "mark": {"type": "text", "align": "left", "fontSize": 12.8, "color": "#333"},
           "encoding": {"x": {"datum": 0.03, "type": "quantitative"}, "y": {"field": "i", "type": "quantitative", "scale": {"domain": [0.26, 18.46], "reverse": true}, "axis": null}, "text": {"field": "t"}}},
          {"data": {"name": "annp"}, "transform": [{"filter": "datum.p == 'mnwsms'"}], "mark": {"type": "text", "align": "left", "fontSize": 12.8, "color": "#333"},
           "encoding": {"x": {"datum": 0.03, "type": "quantitative"}, "y": {"field": "i", "type": "quantitative", "scale": {"domain": [0.26, 18.46], "reverse": true}, "axis": null}, "text": {"field": "t"}}}
         ]},
        {"title": "Soak graupel Rayleigh, mwasss, 2-moment (Seifert-Beheng)", "width": 565, "height": 318, "resolve": {"scale": {"y": "independent"}},
         "layer": [
          {"data": {"name": "lo_w"}, "transform": [{"lookup": "k", "from": {"data": {"name": "sizes"}, "key": "k", "fields": ["lab"]}}],
           "mark": {"type": "line", "interpolate": "monotone", "strokeWidth": 1.5},
           "encoding": {
             "x": {"field": "x", "type": "quantitative", "scale": {"domain": [0, 1], "nice": false}, "axis": {"values": [0, 0.1, 0.2, 0.3, 0.4, 0.5, 0.6, 0.7, 0.8, 0.9, 1], "format": "~g", "title": "fₘₑₗₜ"}},
             "y": {"field": "y", "type": "quantitative", "scale": {"domain": [0, 10], "nice": false}, "axis": {"values": [0, 2, 4, 6, 8, 10], "title": "σb / σb,drop"}},
             "color": {"field": "lab", "type": "nominal", "sort": {"field": "k", "op": "min"}, "title": null, "scale": {"range": ["#000090", "#0000C8", "#0022EE", "#0060F8", "#0090FF", "#00C0FF", "#10E8F0", "#40F0C0", "#90F090", "#C8F040", "#F8F000", "#FFC000", "#FF9020", "#F06020", "#F01818"]}},
             "strokeDash": {"field": "lab", "type": "nominal", "sort": {"field": "k", "op": "min"}, "title": null, "scale": {"range": [[8, 5], [1, 0], [8, 5], [1, 0], [8, 5], [1, 0], [8, 5], [1, 0], [8, 5], [1, 0], [8, 5], [1, 0], [8, 5], [1, 0], [8, 5]]}}
           }},
          {"data": {"name": "annc"}, "mark": {"type": "text", "align": "left", "fontSize": 12.8, "color": "#333"},
           "encoding": {"x": {"datum": 0.03, "type": "quantitative"}, "y": {"field": "i", "type": "quantitative", "scale": {"domain": [0.26, 18.46], "reverse": true}, "axis": null}, "text": {"field": "t"}}},
          {"data": {"name": "annp"}, "transform": [{"filter": "datum.p == 'mwasss'"}], "mark": {"type": "text", "align": "left", "fontSize": 12.8, "color": "#333"},
           "encoding": {"x": {"datum": 0.03, "type": "quantitative"}, "y": {"field": "i", "type": "quantitative", "scale": {"domain": [0.26, 18.46], "reverse": true}, "axis": null}, "text": {"field": "t"}}}
         ]},
        {"title": "Soak graupel Rayleigh, mwasws, 2-moment (Seifert-Beheng)", "width": 565, "height": 318, "resolve": {"scale": {"y": "independent"}},
         "layer": [
          {"data": {"name": "hi"}, "transform": [{"lookup": "k", "from": {"data": {"name": "sizes"}, "key": "k", "fields": ["lab"]}}],
           "mark": {"type": "line", "interpolate": "monotone", "strokeWidth": 1.5},
           "encoding": {
             "x": {"field": "x", "type": "quantitative", "scale": {"domain": [0, 1], "nice": false}, "axis": {"values": [0, 0.1, 0.2, 0.3, 0.4, 0.5, 0.6, 0.7, 0.8, 0.9, 1], "format": "~g", "title": "fₘₑₗₜ"}},
             "y": {"field": "y", "type": "quantitative", "scale": {"domain": [0, 10], "nice": false}, "axis": {"values": [0, 2, 4, 6, 8, 10], "title": "σb / σb,drop"}},
             "color": {"field": "lab", "type": "nominal", "sort": {"field": "k", "op": "min"}, "title": null, "scale": {"range": ["#000090", "#0000C8", "#0022EE", "#0060F8", "#0090FF", "#00C0FF", "#10E8F0", "#40F0C0", "#90F090", "#C8F040", "#F8F000", "#FFC000", "#FF9020", "#F06020", "#F01818"]}},
             "strokeDash": {"field": "lab", "type": "nominal", "sort": {"field": "k", "op": "min"}, "title": null, "scale": {"range": [[8, 5], [1, 0], [8, 5], [1, 0], [8, 5], [1, 0], [8, 5], [1, 0], [8, 5], [1, 0], [8, 5], [1, 0], [8, 5], [1, 0], [8, 5]]}}
           }},
          {"data": {"name": "annc"}, "mark": {"type": "text", "align": "left", "fontSize": 12.8, "color": "#333"},
           "encoding": {"x": {"datum": 0.03, "type": "quantitative"}, "y": {"field": "i", "type": "quantitative", "scale": {"domain": [0.26, 18.46], "reverse": true}, "axis": null}, "text": {"field": "t"}}},
          {"data": {"name": "annp"}, "transform": [{"filter": "datum.p == 'mwasws'"}], "mark": {"type": "text", "align": "left", "fontSize": 12.8, "color": "#333"},
           "encoding": {"x": {"datum": 0.03, "type": "quantitative"}, "y": {"field": "i", "type": "quantitative", "scale": {"domain": [0.26, 18.46], "reverse": true}, "axis": null}, "text": {"field": "t"}}}
         ]},
        {"title": "Soak graupel Rayleigh, mwisss, 2-moment (Seifert-Beheng)", "width": 565, "height": 318, "resolve": {"scale": {"y": "independent"}},
         "layer": [
          {"data": {"name": "lo_w"}, "transform": [{"lookup": "k", "from": {"data": {"name": "sizes"}, "key": "k", "fields": ["lab"]}}],
           "mark": {"type": "line", "interpolate": "monotone", "strokeWidth": 1.5},
           "encoding": {
             "x": {"field": "x", "type": "quantitative", "scale": {"domain": [0, 1], "nice": false}, "axis": {"values": [0, 0.1, 0.2, 0.3, 0.4, 0.5, 0.6, 0.7, 0.8, 0.9, 1], "format": "~g", "title": "fₘₑₗₜ"}},
             "y": {"field": "y", "type": "quantitative", "scale": {"domain": [0, 10], "nice": false}, "axis": {"values": [0, 2, 4, 6, 8, 10], "title": "σb / σb,drop"}},
             "color": {"field": "lab", "type": "nominal", "sort": {"field": "k", "op": "min"}, "title": null, "scale": {"range": ["#000090", "#0000C8", "#0022EE", "#0060F8", "#0090FF", "#00C0FF", "#10E8F0", "#40F0C0", "#90F090", "#C8F040", "#F8F000", "#FFC000", "#FF9020", "#F06020", "#F01818"]}},
             "strokeDash": {"field": "lab", "type": "nominal", "sort": {"field": "k", "op": "min"}, "title": null, "scale": {"range": [[8, 5], [1, 0], [8, 5], [1, 0], [8, 5], [1, 0], [8, 5], [1, 0], [8, 5], [1, 0], [8, 5], [1, 0], [8, 5], [1, 0], [8, 5]]}}
           }},
          {"data": {"name": "annc"}, "mark": {"type": "text", "align": "left", "fontSize": 12.8, "color": "#333"},
           "encoding": {"x": {"datum": 0.03, "type": "quantitative"}, "y": {"field": "i", "type": "quantitative", "scale": {"domain": [0.26, 18.46], "reverse": true}, "axis": null}, "text": {"field": "t"}}},
          {"data": {"name": "annp"}, "transform": [{"filter": "datum.p == 'mwisss'"}], "mark": {"type": "text", "align": "left", "fontSize": 12.8, "color": "#333"},
           "encoding": {"x": {"datum": 0.03, "type": "quantitative"}, "y": {"field": "i", "type": "quantitative", "scale": {"domain": [0.26, 18.46], "reverse": true}, "axis": null}, "text": {"field": "t"}}}
         ]},
        {"title": "Soak graupel Rayleigh, mwisws, 2-moment (Seifert-Beheng)", "width": 565, "height": 318, "resolve": {"scale": {"y": "independent"}},
         "layer": [
          {"data": {"name": "hi"}, "transform": [{"lookup": "k", "from": {"data": {"name": "sizes"}, "key": "k", "fields": ["lab"]}}],
           "mark": {"type": "line", "interpolate": "monotone", "strokeWidth": 1.5},
           "encoding": {
             "x": {"field": "x", "type": "quantitative", "scale": {"domain": [0, 1], "nice": false}, "axis": {"values": [0, 0.1, 0.2, 0.3, 0.4, 0.5, 0.6, 0.7, 0.8, 0.9, 1], "format": "~g", "title": "fₘₑₗₜ"}},
             "y": {"field": "y", "type": "quantitative", "scale": {"domain": [0, 10], "nice": false}, "axis": {"values": [0, 2, 4, 6, 8, 10], "title": "σb / σb,drop"}},
             "color": {"field": "lab", "type": "nominal", "sort": {"field": "k", "op": "min"}, "title": null, "scale": {"range": ["#000090", "#0000C8", "#0022EE", "#0060F8", "#0090FF", "#00C0FF", "#10E8F0", "#40F0C0", "#90F090", "#C8F040", "#F8F000", "#FFC000", "#FF9020", "#F06020", "#F01818"]}},
             "strokeDash": {"field": "lab", "type": "nominal", "sort": {"field": "k", "op": "min"}, "title": null, "scale": {"range": [[8, 5], [1, 0], [8, 5], [1, 0], [8, 5], [1, 0], [8, 5], [1, 0], [8, 5], [1, 0], [8, 5], [1, 0], [8, 5], [1, 0], [8, 5]]}}
           }},
          {"data": {"name": "annc"}, "mark": {"type": "text", "align": "left", "fontSize": 12.8, "color": "#333"},
           "encoding": {"x": {"datum": 0.03, "type": "quantitative"}, "y": {"field": "i", "type": "quantitative", "scale": {"domain": [0.26, 18.46], "reverse": true}, "axis": null}, "text": {"field": "t"}}},
          {"data": {"name": "annp"}, "transform": [{"filter": "datum.p == 'mwisws'"}], "mark": {"type": "text", "align": "left", "fontSize": 12.8, "color": "#333"},
           "encoding": {"x": {"datum": 0.03, "type": "quantitative"}, "y": {"field": "i", "type": "quantitative", "scale": {"domain": [0.26, 18.46], "reverse": true}, "axis": null}, "text": {"field": "t"}}}
         ]}
      ]
    }
  ]
}
